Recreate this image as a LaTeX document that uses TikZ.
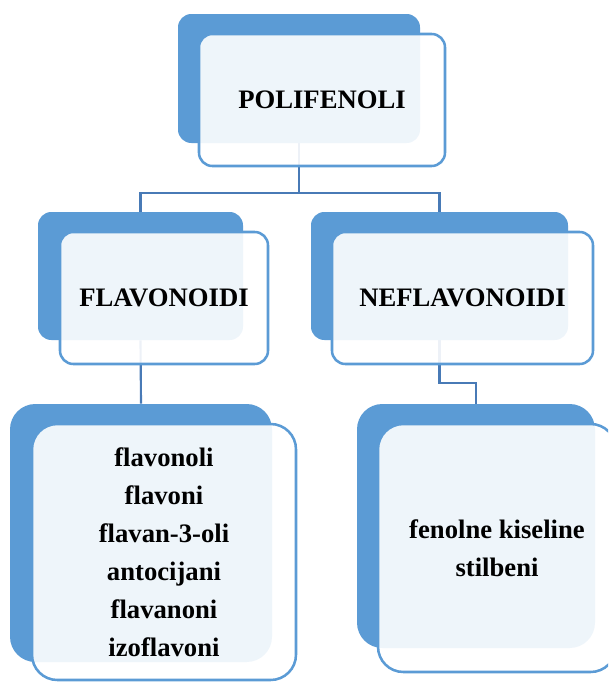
\documentclass[tikz,border=0pt]{standalone}
\usepackage{fontspec}
\setmainfont{Liberation Serif}
\usetikzlibrary{backgrounds}
\definecolor{dblue}{RGB}{91,155,213}
\definecolor{lineblue}{RGB}{72,122,182}
\tikzset{
  backbox/.style={fill=dblue, draw=none, rounded corners=#1, inner sep=0pt, rectangle},
  frontbox/.style={draw=dblue, line width=1.9pt, fill=white, fill opacity=0.9, text opacity=1,
    rounded corners=#1, inner sep=0pt, rectangle, align=center,
    font=\fontsize{20}{28.5}\selectfont\bfseries},
  conn/.style={draw=lineblue, line width=1.6pt}
}
\begin{document}
\begin{tikzpicture}[x=0.75pt,y=-0.75pt]
\useasboundingbox (0,0) rectangle (608,682);
\clip (0,0) rectangle (608,682);
% back boxes
\node[backbox=10pt, minimum width=181.5pt, minimum height=96.75pt] (topdark) at (299,78.5) {};
\node[backbox=10pt, minimum width=153.75pt, minimum height=96pt] (fladark) at (140.5,276) {};
\node[backbox=10pt, minimum width=192.75pt, minimum height=96pt] (nefdark) at (439.5,276) {};
\node[backbox=19pt, minimum width=196.5pt, minimum height=193.5pt] (bldark) at (141,533) {};
\node[backbox=19pt, minimum width=178.5pt, minimum height=183pt] (brdark) at (476,526) {};
% front boxes
\node[frontbox=10pt, minimum width=184.5pt, minimum height=99pt] (topfront) at (322,100) {POLIFENOLI};
\node[frontbox=10pt, minimum width=156pt, minimum height=99pt] (flafront) at (164,298) {FLAVONOIDI};
\node[frontbox=10pt, minimum width=195.75pt, minimum height=99pt] (neffront) at (462.5,298) {NEFLAVONOIDI};
\node[frontbox=19pt, minimum width=198pt, minimum height=192pt] (blfront) at (164,552)
  {flavonoli\\flavoni\\flavan-3-oli\\antocijani\\flavanoni\\izoflavoni};
\node[frontbox=19pt, minimum width=178.5pt, minimum height=186pt] (brfront) at (497,548)
  {fenolne kiseline\\stilbeni};
% connectors
\begin{pgfonlayer}{background}
\draw[conn] (topdark.south) -- ++(0,50) -| (fladark.north);
\draw[conn] (topdark.south) -- ++(0,50) -| (nefdark.north);
\draw[conn] (fladark.south) -- (bldark.north);
\draw[conn] (nefdark.south) -- ++(0,43) -| (brdark.north);
\end{pgfonlayer}
\end{tikzpicture}
\end{document}
